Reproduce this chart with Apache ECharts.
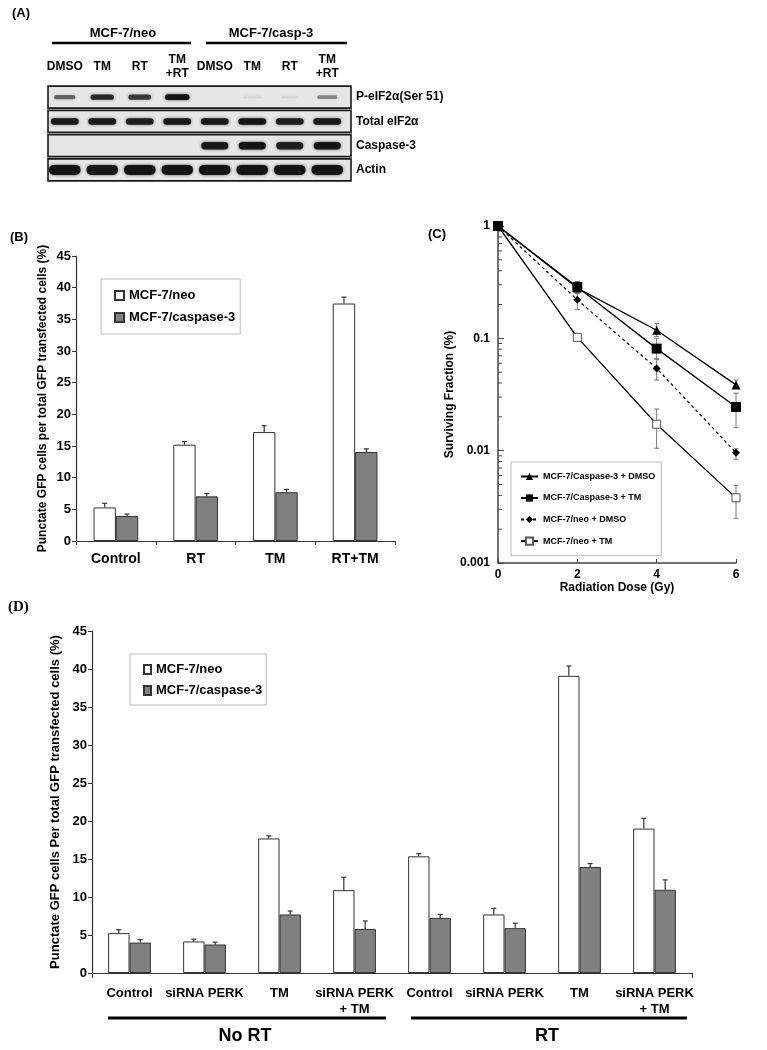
<!DOCTYPE html>
<html><head><meta charset="utf-8">
<script src="https://cdn.jsdelivr.net/npm/echarts@6/dist/echarts.min.js"></script>
<style>html,body{margin:0;padding:0;background:#fff}#c{width:767px;height:1050px}</style>
</head><body><div id="c"></div>
<script>
// ---------- Panel A : western blot (band intensities 0..1) ----------
const blotLanes = ['DMSO','TM','RT','TM\n+RT','DMSO','TM','RT','TM\n+RT'];
const blotRows = ['P-eIF2α(Ser 51)','Total eIF2α','Caspase-3','Actin'];
const bandPeIF2 = [0.55,0.85,0.75,1.0,0,0.08,0.08,0.4];
const bandTotal = [0.95,0.95,0.9,0.95,0.95,1.0,0.9,0.95];
const bandCasp3 = [0,0,0,0,0.95,1.0,0.9,1.0];
const bandActin = [1.0,0.95,1.0,1.0,1.0,1.0,1.0,1.0];
const blotGroups = ['MCF-7/neo','MCF-7/casp-3'];

// ---------- Panel B ----------
const bCategories = ['Control','RT','TM','RT+TM'];
const bNeo = [5.3,15.2,17.2,37.5];
const bNeoErr = [0.65,0.5,1.0,1.0];
const bCas = [3.95,7.05,7.7,14.05];
const bCasErr = [0.3,0.45,0.45,0.5];
const seriesNames = ['MCF-7/neo','MCF-7/caspase-3'];

// ---------- Panel C ----------
const cDose = [0,2,4,6];
const cCasDmso = [1,0.28,0.118,0.0385];
const cCasDmsoLo = [1,0.25,0.104,0.036];
const cCasDmsoHi = [1,0.31,0.136,0.0425];
const cCasTm = [1,0.287,0.081,0.0245];
const cCasTmLo = [1,0.255,0.065,0.016];
const cCasTmHi = [1,0.32,0.1,0.0325];
const cNeoDmso = [1,0.22,0.054,0.0096];
const cNeoDmsoLo = [1,0.18,0.0425,0.0084];
const cNeoDmsoHi = [1,0.25,0.066,0.0104];
const cNeoTm = [1,0.102,0.0172,0.0038];
const cNeoTmLo = [1,0.098,0.0105,0.0025];
const cNeoTmHi = [1,0.106,0.0235,0.0049];
const cNames = ['MCF-7/Caspase-3 + DMSO','MCF-7/Caspase-3 + TM','MCF-7/neo + DMSO','MCF-7/neo + TM'];
const cMinorMult = [2,3,4,5,6,7,8,9];
const cDecades = [0.001,0.01,0.1];

// ---------- Panel D ----------
const dCategories = ['Control','siRNA PERK','TM','siRNA PERK\n+ TM','Control','siRNA PERK','TM','siRNA PERK\n+ TM'];
const dNeo = [5.25,4.15,17.7,10.9,15.35,7.7,39.1,19.0];
const dNeoErr = [0.45,0.3,0.35,1.7,0.35,0.8,1.3,1.35];
const dCas = [4.0,3.75,7.7,5.8,7.25,5.9,13.95,10.95];
const dCasErr = [0.4,0.3,0.45,1.05,0.45,0.65,0.45,1.3];
const dGroups = ['No RT','RT'];

const F = 'Liberation Sans, Arial, sans-serif';
const chart = echarts.init(document.getElementById('c'), null, {renderer:'canvas'});

const bandRows = [bandPeIF2, bandTotal, bandCasp3, bandActin];
const bandData = [];
bandRows.forEach((arr, r) => arr.forEach((v, l) => bandData.push([l, r, v])));
const bandW = [0.62, 0.74, 0.72, 0.84];
const bandH = [4.5, 6.5, 7.5, 10];

function errRender(frac, color) {
  return function (params, api) {
    const i = api.value(0), v = api.value(1), e = api.value(2), side = api.value(3);
    const bw = api.size([1, 0])[0];
    const off = side * bw * frac / 4;
    const p0 = api.coord([i, v]), p1 = api.coord([i, v + e]);
    const x = p0[0] + off;
    const st = {stroke: color, lineWidth: 1.2};
    return {type: 'group', children: [
      {type: 'line', shape: {x1: x, y1: p0[1], x2: x, y2: p1[1]}, style: st},
      {type: 'line', shape: {x1: x - 2.5, y1: p1[1], x2: x + 2.5, y2: p1[1]}, style: st}
    ]};
  };
}
function logErrRender(params, api) {
  const x = api.value(0), lo = api.value(1), hi = api.value(2);
  if (lo === hi) return null;
  const a = api.coord([x, lo]), b = api.coord([x, hi]);
  const st = {stroke: '#777', lineWidth: 1};
  return {type: 'group', children: [
    {type: 'line', shape: {x1: a[0], y1: a[1], x2: b[0], y2: b[1]}, style: st},
    {type: 'line', shape: {x1: a[0] - 2.5, y1: a[1], x2: a[0] + 2.5, y2: a[1]}, style: st},
    {type: 'line', shape: {x1: b[0] - 2.5, y1: b[1], x2: b[0] + 2.5, y2: b[1]}, style: st}
  ]};
}
const cMinor = [];
cDecades.forEach(d => cMinorMult.forEach(m => cMinor.push([0, d * m])));

const axisTxt = {color: '#000', fontFamily: F, fontWeight: 'bold'};
const blackLine = {lineStyle: {color: '#333', width: 1.2}};

const option = {
  animation: false,
  textStyle: {fontFamily: F},
  grid: [
    {left: 46, top: 85, width: 300, height: 97},
    {left: 76, top: 256, width: 319, height: 285},
    {left: 498, top: 226, width: 238, height: 337},
    {left: 92, top: 631, width: 600, height: 342}
  ],
  xAxis: [
    {gridIndex: 0, type: 'category', position: 'top', data: blotLanes,
     axisLine: {show: false}, axisTick: {show: false},
     axisLabel: Object.assign({fontSize: 12, margin: 18, verticalAlign: 'middle', lineHeight: 14, interval: 0}, axisTxt)},
    {gridIndex: 1, type: 'category', data: bCategories,
     axisLine: blackLine, axisTick: {show: true, length: 4, interval: 0, lineStyle: {color: '#333'}},
     axisLabel: Object.assign({fontSize: 14, margin: 11}, axisTxt)},
    {gridIndex: 2, type: 'value', min: 0, max: 6, interval: 2,
     name: 'Radiation Dose (Gy)', nameLocation: 'middle', nameGap: 18,
     nameTextStyle: Object.assign({fontSize: 12}, axisTxt),
     axisLine: {lineStyle: {color: '#444', width: 1.5}}, axisTick: {inside: true, length: 4, lineStyle: {color: '#444'}},
     splitLine: {show: false}, axisLabel: Object.assign({fontSize: 12, margin: 6}, axisTxt)},
    {gridIndex: 3, type: 'category', data: dCategories,
     axisLine: blackLine, axisTick: {show: true, length: 5, interval: function (i) { return i === 4; }, lineStyle: {color: '#333'}},
     axisLabel: Object.assign({fontSize: 13, margin: 12, lineHeight: 16, interval: 0}, axisTxt)}
  ],
  yAxis: [
    {gridIndex: 0, type: 'category', position: 'right', inverse: true, data: blotRows,
     axisLine: {show: false}, axisTick: {show: false},
     axisLabel: Object.assign({fontSize: 12, margin: 10, align: 'left'}, axisTxt)},
    {gridIndex: 1, type: 'value', min: 0, max: 45, interval: 5,
     name: 'Punctate GFP cells per total GFP transfected cells (%)', nameLocation: 'middle', nameGap: 27,
     nameTextStyle: Object.assign({fontSize: 12}, axisTxt),
     axisLine: Object.assign({show: true}, blackLine), axisTick: {show: true, length: 4, lineStyle: {color: '#333'}},
     splitLine: {show: false}, axisLabel: Object.assign({fontSize: 13, margin: 5}, axisTxt)},
    {gridIndex: 2, type: 'log', logBase: 10, min: 0.001, max: 1,
     name: 'Surviving Fraction (%)', nameLocation: 'middle', nameGap: 35,
     nameTextStyle: Object.assign({fontSize: 12}, axisTxt),
     axisLine: {show: true, lineStyle: {color: '#444', width: 1.5}}, axisTick: {show: true, inside: true, length: 6, lineStyle: {color: '#444'}},
     splitLine: {show: false},
     axisLabel: Object.assign({fontSize: 12, margin: 8, formatter: v => String(parseFloat(Number(v).toPrecision(3)))}, axisTxt)},
    {gridIndex: 3, type: 'value', min: 0, max: 45, interval: 5,
     name: 'Punctate GFP cells Per total GFP transfected cells (%)', nameLocation: 'middle', nameGap: 30,
     nameTextStyle: Object.assign({fontSize: 13}, axisTxt),
     axisLine: Object.assign({show: true}, blackLine), axisTick: {show: true, length: 4, lineStyle: {color: '#333'}},
     splitLine: {show: false}, axisLabel: Object.assign({fontSize: 13, margin: 5}, axisTxt)}
  ],
  legend: [
    {data: seriesNames, left: 101, top: 279, orient: 'vertical', icon: 'rect', itemWidth: 9, itemHeight: 9, itemGap: 9,
     padding: [10, 5, 10, 13], backgroundColor: '#fff', borderColor: '#bbb', borderWidth: 1,
     textStyle: {fontSize: 13, fontWeight: 'bold', color: '#000', fontFamily: F}, selectedMode: false},
    {data: cNames, left: 511, top: 462, orient: 'vertical', itemWidth: 17, itemHeight: 9, itemGap: 12.5,
     padding: [10, 6, 10, 9], backgroundColor: '#fff', borderColor: '#bbb', borderWidth: 1,
     textStyle: {fontSize: 9, fontWeight: 'bold', color: '#000', fontFamily: F}, selectedMode: false},
    {data: seriesNames, left: 130, top: 654, orient: 'vertical', icon: 'rect', itemWidth: 7, itemHeight: 9, itemGap: 8,
     padding: [9, 4, 8, 13], backgroundColor: '#fff', borderColor: '#bbb', borderWidth: 1,
     textStyle: {fontSize: 13, fontWeight: 'bold', color: '#000', fontFamily: F}, selectedMode: false}
  ],
  graphic: [
    {type: 'text', left: 12, top: 7, style: {text: '(A)', font: 'bold 13px ' + F, fill: '#000'}},
    {type: 'text', left: 10, top: 231, style: {text: '(B)', font: 'bold 13px ' + F, fill: '#000'}},
    {type: 'text', left: 428, top: 228, style: {text: '(C)', font: 'bold 13px ' + F, fill: '#000'}},
    {type: 'text', left: 8, top: 600, style: {text: '(D)', font: 'bold 15px Liberation Serif, Times New Roman, serif', fill: '#000'}},
    {type: 'text', x: 123, y: 33, style: {text: blotGroups[0], font: 'bold 13px ' + F, fill: '#000', align: 'center', verticalAlign: 'middle'}},
    {type: 'text', x: 271, y: 33, style: {text: blotGroups[1], font: 'bold 13px ' + F, fill: '#000', align: 'center', verticalAlign: 'middle'}},
    {type: 'line', shape: {x1: 52, y1: 43, x2: 191, y2: 43}, style: {stroke: '#000', lineWidth: 2.5}},
    {type: 'line', shape: {x1: 206, y1: 43, x2: 347, y2: 43}, style: {stroke: '#000', lineWidth: 2.5}},
    {type: 'line', shape: {x1: 108, y1: 1018, x2: 386, y2: 1018}, style: {stroke: '#000', lineWidth: 3}},
    {type: 'line', shape: {x1: 411, y1: 1018, x2: 687, y2: 1018}, style: {stroke: '#000', lineWidth: 3}},
    {type: 'text', x: 245, y: 1036, style: {text: dGroups[0], font: 'bold 18px ' + F, fill: '#000', align: 'center', verticalAlign: 'middle'}},
    {type: 'text', x: 547, y: 1036, style: {text: dGroups[1], font: 'bold 18px ' + F, fill: '#000', align: 'center', verticalAlign: 'middle'}}
  ],
  series: [
    // A: strips
    {type: 'custom', xAxisIndex: 0, yAxisIndex: 0, encode: {x: 0, y: 1}, silent: true, z: 1,
     data: blotRows.map((r, i) => [0, i]),
     renderItem: function (params, api) {
       const r = api.value(1);
       const a = api.coord([0, r]), b = api.coord([7, r]);
       const bw = api.size([1, 1])[0];
       const left = a[0] - bw / 2 + 2, right = b[0] + bw / 2 + 5;
       return {type: 'rect', shape: {x: left, y: a[1] - 11, width: right - left, height: 22},
               style: {fill: '#e6e6e6', stroke: '#1a1a1a', lineWidth: 1.6}};
     }},
    // A: bands
    {type: 'custom', xAxisIndex: 0, yAxisIndex: 0, encode: {x: 0, y: 1}, silent: true, z: 2,
     data: bandData,
     renderItem: function (params, api) {
       const l = api.value(0), r = api.value(1), v = api.value(2);
       if (!(v > 0)) return null;
       const c = api.coord([l, r]);
       const bw = api.size([1, 1])[0];
       const w = bw * bandW[r] * (r === 0 ? (0.75 + 0.3 * v) : 1);
       const h = bandH[r] * (r === 0 ? (0.6 + 0.7 * v) : 1);
       return {type: 'rect', shape: {x: c[0] - w / 2, y: c[1] - h / 2, width: w, height: h, r: h / 2},
               style: {fill: 'rgba(20,20,20,' + Math.min(1, v) + ')', shadowBlur: 3, shadowColor: 'rgba(20,20,20,' + (0.7 * v) + ')'}};
     }},
    // B bars
    {name: seriesNames[0], type: 'bar', xAxisIndex: 1, yAxisIndex: 1, data: bNeo, barGap: '0%', barCategoryGap: '44%',
     itemStyle: {color: '#fff', borderColor: '#333', borderWidth: 1}},
    {name: seriesNames[1], type: 'bar', xAxisIndex: 1, yAxisIndex: 1, data: bCas, barGap: '0%', barCategoryGap: '44%',
     itemStyle: {color: '#808080', borderColor: '#333', borderWidth: 1}},
    {type: 'custom', xAxisIndex: 1, yAxisIndex: 1, encode: {x: 0, y: 1}, silent: true, z: 5,
     data: bNeo.map((v, i) => [i, v, bNeoErr[i], -1]).concat(bCas.map((v, i) => [i, v, bCasErr[i], 1])),
     renderItem: errRender(1 - 0.44, '#333')},
    // C error bars
    {type: 'custom', xAxisIndex: 2, yAxisIndex: 2, encode: {x: 0, y: [1, 2]}, silent: true, z: 1,
     data: [].concat(
       cDose.map((d, i) => [d, cCasDmsoLo[i], cCasDmsoHi[i]]),
       cDose.map((d, i) => [d, cCasTmLo[i], cCasTmHi[i]]),
       cDose.map((d, i) => [d, cNeoDmsoLo[i], cNeoDmsoHi[i]]),
       cDose.map((d, i) => [d, cNeoTmLo[i], cNeoTmHi[i]])),
     renderItem: logErrRender},
    // C minor ticks
    {type: 'custom', xAxisIndex: 2, yAxisIndex: 2, encode: {x: 0, y: 1}, silent: true, z: 1,
     data: cMinor,
     renderItem: function (params, api) {
       const c = api.coord([0, api.value(1)]);
       return {type: 'line', shape: {x1: c[0], y1: c[1], x2: c[0] + 4, y2: c[1]}, style: {stroke: '#444', lineWidth: 1}};
     }},
    {name: cNames[0], type: 'line', xAxisIndex: 2, yAxisIndex: 2, data: cDose.map((d, i) => [d, cCasDmso[i]]),
     symbol: 'triangle', symbolSize: 9, z: 3,
     lineStyle: {color: '#000', width: 1.3}, itemStyle: {color: '#000'}},
    {name: cNames[1], type: 'line', xAxisIndex: 2, yAxisIndex: 2, data: cDose.map((d, i) => [d, cCasTm[i]]),
     symbol: 'rect', symbolSize: 10, z: 4,
     lineStyle: {color: '#000', width: 1.3}, itemStyle: {color: '#000'}},
    {name: cNames[2], type: 'line', xAxisIndex: 2, yAxisIndex: 2, data: cDose.map((d, i) => [d, cNeoDmso[i]]),
     symbol: 'diamond', symbolSize: 8, z: 3,
     lineStyle: {color: '#000', width: 1.2, type: [3, 3]}, itemStyle: {color: '#000'}},
    {name: cNames[3], type: 'line', xAxisIndex: 2, yAxisIndex: 2, data: cDose.map((d, i) => [d, cNeoTm[i]]),
     symbol: 'rect', symbolSize: 8, z: 3,
     lineStyle: {color: '#000', width: 1.3}, itemStyle: {color: '#fff', borderColor: '#555', borderWidth: 1}},
    // D bars
    {name: seriesNames[0], type: 'bar', xAxisIndex: 3, yAxisIndex: 3, data: dNeo, barGap: '0%', barCategoryGap: '43%',
     itemStyle: {color: '#fff', borderColor: '#333', borderWidth: 1}},
    {name: seriesNames[1], type: 'bar', xAxisIndex: 3, yAxisIndex: 3, data: dCas, barGap: '0%', barCategoryGap: '43%',
     itemStyle: {color: '#808080', borderColor: '#333', borderWidth: 1}},
    {type: 'custom', xAxisIndex: 3, yAxisIndex: 3, encode: {x: 0, y: 1}, silent: true, z: 5,
     data: dNeo.map((v, i) => [i, v, dNeoErr[i], -1]).concat(dCas.map((v, i) => [i, v, dCasErr[i], 1])),
     renderItem: errRender(1 - 0.43, '#333')}
  ]
};
chart.setOption(option);
</script>
</body></html>
